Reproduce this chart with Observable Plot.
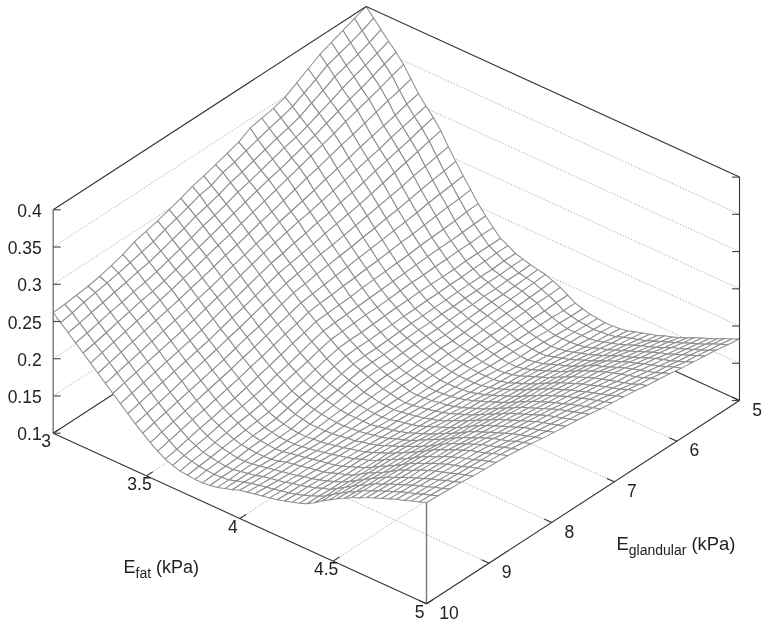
<!DOCTYPE html>
<html>
<head>
<meta charset="utf-8">
<script src="https://cdn.jsdelivr.net/npm/d3@7"></script>
<script src="https://cdn.jsdelivr.net/npm/@observablehq/plot@0.6"></script>
<style>
html,body{margin:0;padding:0;background:#fff;}
svg{display:block;filter:blur(0.35px);}
</style>
</head>
<body>
<div id="chart"></div>
<script>
// Axis ticks
const efatTicks = [3, 3.5, 4, 4.5, 5];
const eglandularTicks = [5, 6, 7, 8, 9, 10];
const zTicks = [0.1, 0.15, 0.2, 0.25, 0.3, 0.35, 0.4];
const zLabels = ["0.1", "0.15", "0.2", "0.25", "0.3", "0.35", "0.4"];
const efatTitle = "Efat (kPa)";
const eglandularTitle = "Eglandular (kPa)";

// Height of the surface (in thousandths). One array per Eglandular grid line, 51 values along Efat 3 to 5.
const eg00 = [400,389,378,367,357,345,330,315,303,292,279,262,247,232,218,204,192,181,171,166,160,157,154,152,150,146,142,136,130,127,124,123,122,122,123,125,128,131,134,137,141,144,148,152,157,161,165,169,174,178,183];
const eg01 = [394,382,371,361,351,340,325,311,299,288,275,259,244,230,216,203,191,181,171,166,160,157,153,151,149,145,141,136,130,127,125,124,123,124,125,127,131,134,137,140,144,148,152,156,160,164,168,172,177,181,185];
const eg02 = [388,376,365,355,345,334,321,306,295,283,271,256,242,228,215,201,190,180,171,165,159,156,153,150,148,144,141,135,131,128,125,125,125,125,127,130,133,136,140,144,148,151,155,159,164,167,171,175,179,183,188];
const eg03 = [382,371,360,350,339,329,316,302,291,279,267,253,239,226,213,200,189,180,171,165,159,156,152,149,147,143,140,135,131,128,126,126,126,127,129,132,136,139,143,147,151,155,159,163,167,170,174,178,182,186,190];
const eg04 = [376,366,355,344,334,324,311,298,286,275,263,249,236,223,211,199,189,179,170,164,159,155,152,149,146,143,139,135,131,129,127,126,127,129,132,135,138,142,146,150,155,158,162,166,170,174,177,180,184,188,192];
const eg05 = [367,357,347,337,328,319,306,294,282,271,259,246,233,221,209,198,188,179,170,164,159,155,151,148,145,142,138,135,131,129,128,127,128,131,134,137,141,145,149,153,158,162,166,170,173,177,180,183,187,191,194];
const eg06 = [358,349,340,331,322,313,302,289,278,266,255,243,231,219,208,196,187,178,170,163,158,154,151,147,144,141,138,134,132,130,128,128,130,132,136,140,143,147,152,157,162,165,169,173,177,180,183,186,189,193,197];
const eg07 = [349,341,332,324,316,308,297,285,274,262,251,240,228,217,206,195,186,178,170,163,158,154,150,146,143,140,137,134,132,130,129,129,131,134,138,142,146,150,155,160,165,169,173,177,180,183,186,189,192,196,199];
const eg08 = [344,336,327,319,311,303,292,281,270,259,248,237,226,215,204,194,185,177,169,162,157,153,149,145,142,139,137,134,132,131,130,131,133,136,140,144,148,152,157,162,167,171,175,179,182,185,188,191,194,198,201];
const eg09 = [341,332,323,315,306,298,288,276,266,255,245,234,223,213,203,193,184,176,169,162,157,153,149,145,142,139,136,134,133,132,132,132,134,137,141,145,149,154,159,164,169,173,177,181,184,188,191,194,197,201,204];
const eg10 = [338,327,318,310,301,293,283,272,262,252,242,231,221,211,201,192,183,175,168,161,156,152,148,144,141,138,136,134,133,133,133,134,136,139,143,147,151,156,161,166,171,175,179,183,186,190,193,196,199,203,206];
const eg11 = [329,322,313,305,297,288,278,268,259,248,238,229,219,209,200,190,182,175,167,161,155,151,147,143,140,138,135,133,133,133,134,135,138,141,145,149,153,157,162,167,172,177,181,185,189,192,196,199,202,205,208];
const eg12 = [324,317,308,300,292,283,273,264,255,245,235,226,217,207,198,189,181,174,166,160,154,150,146,142,139,137,135,133,133,134,135,137,140,143,147,151,155,159,164,169,174,179,183,187,191,194,198,201,204,207,210];
const eg13 = [319,313,304,296,287,278,269,259,251,241,232,223,214,205,197,188,180,173,166,160,154,150,146,142,139,137,134,133,134,135,137,138,141,144,148,152,156,161,166,171,176,181,185,189,193,197,201,204,207,210,213];
const eg14 = [314,306,298,290,282,273,264,255,247,238,229,220,212,203,195,187,179,172,165,159,153,149,145,141,138,136,134,133,134,136,138,140,143,146,150,154,158,163,168,173,178,183,187,191,195,199,203,206,209,212,215];
const eg15 = [310,303,293,285,277,268,259,250,242,233,224,215,207,198,190,182,175,168,161,155,150,146,143,139,137,135,134,134,135,137,139,141,144,147,151,156,160,165,170,175,180,185,189,193,197,201,205,208,211,214,217];
const eg16 = [304,297,289,281,272,264,255,246,237,228,219,211,202,194,186,178,170,163,157,151,146,143,140,137,136,135,134,134,135,138,140,142,145,149,153,157,161,166,171,177,182,187,191,195,199,203,207,210,213,216,219];
const eg17 = [299,292,283,275,267,259,250,241,232,223,214,206,197,189,181,173,165,159,152,147,143,140,137,135,134,134,134,134,136,138,140,143,146,150,154,158,163,168,173,178,184,189,193,197,201,205,209,212,215,218,221];
const eg18 = [294,287,278,270,262,254,245,236,228,219,210,201,193,184,176,168,161,155,148,144,140,137,135,134,133,133,134,135,137,139,141,144,148,151,155,160,165,170,175,180,186,191,195,200,204,208,211,214,218,221,224];
const eg19 = [290,281,273,265,257,250,241,232,223,214,205,197,188,180,172,164,156,150,144,140,136,134,132,132,132,133,134,136,137,140,142,145,149,153,157,162,166,171,176,182,188,193,197,202,206,210,213,216,220,223,226];
const eg20 = [286,277,268,260,252,245,236,227,218,209,200,192,183,175,167,159,152,146,140,136,133,131,130,130,131,132,134,136,138,141,143,146,150,154,158,163,168,173,178,184,190,195,199,204,208,212,215,218,222,225,228];
const eg21 = [279,273,265,256,248,241,232,223,214,205,196,188,179,171,163,155,149,143,138,134,132,130,130,130,131,133,135,137,139,142,144,147,151,154,158,164,169,174,179,185,191,196,200,205,209,213,216,219,223,226,229];
const eg22 = [274,269,261,253,245,237,228,219,210,201,192,184,175,167,159,152,146,141,136,133,131,130,129,130,132,134,136,138,140,142,144,147,151,155,159,164,170,175,180,186,192,197,201,206,210,214,217,220,224,227,230];
const eg23 = [270,266,258,249,241,233,224,215,206,197,188,180,171,163,155,148,143,138,134,131,130,129,129,130,132,135,137,139,141,143,145,148,152,155,159,165,171,176,181,187,193,198,202,207,211,215,218,221,225,228,231];
const eg24 = [267,263,254,246,237,229,220,211,202,193,184,175,167,159,152,145,139,135,132,130,128,128,129,131,133,135,137,139,141,144,146,149,152,156,160,165,171,177,183,188,194,198,203,207,211,215,219,222,226,229,233];
const eg25 = [265,260,251,242,233,225,216,207,198,189,180,171,163,155,148,141,136,132,130,128,127,127,129,131,133,136,138,140,142,145,147,150,153,157,160,166,172,178,184,189,195,199,204,208,212,216,220,223,227,230,234];
const eg26 = [263,256,247,238,229,221,212,203,194,185,176,167,159,151,144,137,133,130,128,127,126,127,128,131,134,137,139,141,143,145,147,150,153,157,161,166,173,179,185,190,196,200,205,209,213,217,221,224,228,231,235];
const eg27 = [262,253,244,235,226,217,208,199,190,181,172,163,155,147,140,134,130,127,126,125,125,126,128,131,134,138,140,142,144,146,148,151,154,157,161,167,174,180,186,191,197,201,206,210,214,218,222,225,229,232,236];
const surfaceRows = [eg00,eg01,eg02,eg03,eg04,eg05,eg06,eg07,eg08,eg09,eg10,eg11,eg12,eg13,eg14,eg15,eg16,eg17,eg18,eg19,eg20,eg21,eg22,eg23,eg24,eg25,eg26,eg27];

// Fixed oblique view of the box: Efat 3..5, Eglandular 5..10, height 0.1..0.4
const W = 766, H = 626;
const back = [365.7, 229.4], efatStep = [373.3, 170.6], egStep = [-313, 203.3], zPx = 744.7;
const project = (efat, eg, z) => {
  const u = (efat - 3) / 2, v = (eg - 5) / 5;
  return [back[0] + u * efatStep[0] + v * egStep[0],
          back[1] + u * efatStep[1] + v * egStep[1] - (z - 0.1) * zPx];
};
const nEf = surfaceRows[0].length, nEg = surfaceRows.length;
const efAt = i => 3 + 2 * i / (nEf - 1);
const egAt = j => 5 + 5 * j / (nEg - 1);
const zAt = (i, j) => surfaceRows[j][i] / 1000;

// Mesh cells, back to front, so that nearer cells hide what lies behind them
const cells = [];
for (let j = 0; j < nEg - 1; j++) {
  for (let i = 0; i < nEf - 1; i++) {
    for (const [a, b] of [[i, j], [i + 1, j], [i + 1, j + 1], [i, j + 1]]) {
      const p = project(efAt(a), egAt(b), zAt(a, b));
      cells.push({id: j * nEf + i, x: p[0], y: p[1]});
    }
  }
}

const seg = (a, b) => ({x1: a[0], y1: a[1], x2: b[0], y2: b[1]});
const zMin = 0.1, zMax = 0.4;

const gridLines = [
  ...efatTicks.slice(1, -1).map(e => seg(project(e, 10, zMin), project(e, 5, zMin))),
  ...eglandularTicks.slice(1, -1).map(g => seg(project(5, g, zMin), project(3, g, zMin))),
  ...zTicks.slice(1, -1).flatMap(z => [seg(project(3, 10, z), project(3, 5, z)), seg(project(3, 5, z), project(5, 5, z))])
];
const hiddenBase = [seg(project(3, 10, zMin), project(3, 5, zMin)), seg(project(3, 5, zMin), project(5, 5, zMin))];
const darkEdges = [
  seg(project(3, 10, zMin), project(5, 10, zMin)),
  seg(project(5, 10, zMin), project(5, 5, zMin)),
  seg(project(3, 10, zMax), project(3, 5, zMax)),
  seg(project(3, 5, zMax), project(5, 5, zMax)),
  seg(project(5, 5, zMin), project(5, 5, zMax)),
  ...efatTicks.map(e => seg(project(e, 10, zMin), project(e, 9.9, zMin))),
  ...eglandularTicks.map(g => seg(project(5, g, zMin), project(4.96, g, zMin)))
];
const grayEdges = [
  seg(project(3, 10, zMin), project(3, 10, zMax)),
  seg(project(5, 10, zMin), project(5, 10, zAt(nEf - 1, nEg - 1)))
];
const tickLen = 7.5;
const zTickSegs = zTicks.flatMap(z => {
  const l = project(3, 10, z), r = project(5, 5, z);
  return [seg(l, [l[0] + tickLen, l[1]]), seg(r, [r[0] - tickLen, r[1]])];
});

const linkOpts = {x1: "x1", y1: "y1", x2: "x2", y2: "y2"};
const font = "'Liberation Sans', Arial, Helvetica, sans-serif";

const chart = Plot.plot({
  width: W, height: H, margin: 0,
  style: {background: "#fff", fontFamily: font, overflow: "visible"},
  x: {domain: [0, W], range: [0, W], axis: null},
  y: {domain: [0, H], range: [0, H], axis: null},
  marks: [
    Plot.link(hiddenBase, {...linkOpts, stroke: "#333", strokeWidth: 1.1}),
    Plot.link(gridLines, {...linkOpts, stroke: "#a8a8a8", strokeWidth: 1, strokeDasharray: "1.2,1.8"}),
    Plot.line(cells, {x: "x", y: "y", z: "id", curve: "linear-closed", fill: "#fff", stroke: "#8f8f8f", strokeWidth: 1.05, strokeLinejoin: "round"}),
    Plot.link(grayEdges, {...linkOpts, stroke: "#777", strokeWidth: 1.4}),
    Plot.link(darkEdges, {...linkOpts, stroke: "#333", strokeWidth: 1.1}),
    Plot.link(zTickSegs, {...linkOpts, stroke: "#444", strokeWidth: 1.1}),
    Plot.text(zTicks, {
      x: z => project(3, 10, z)[0], y: z => project(3, 10, z)[1], text: (z, i) => zLabels[i],
      dx: -11.5, dy: 1.5, textAnchor: "end", fontSize: 17.5, fill: "#222"
    }),
    Plot.text(efatTicks, {
      x: e => project(e, 10, zMin)[0], y: e => project(e, 10, zMin)[1], text: e => String(e),
      dx: -7, dy: 8.5, textAnchor: "middle", fontSize: 17.5, fill: "#222"
    }),
    Plot.text(eglandularTicks, {
      x: g => project(5, g, zMin)[0], y: g => project(5, g, zMin)[1], text: g => String(g),
      dx: 12.7, dy: 9.7, textAnchor: "start", fontSize: 17.5, fill: "#222"
    }),
    Plot.text([efatTitle], {x: () => 123, y: () => 567, text: d => d, textAnchor: "start", fontSize: 18, fill: "#222"}),
    Plot.text([eglandularTitle], {x: () => 616, y: () => 544, text: d => d, textAnchor: "start", fontSize: 18.4, fill: "#222"})
  ]
});

// Set the part after the leading E of each axis title as a subscript
d3.select(chart).selectAll("text").each(function () {
  const t = this.textContent;
  const m = /^E(\w+)( \(kPa\))$/.exec(t);
  if (!m) return;
  const s = d3.select(this);
  s.text("");
  s.append("tspan").text("E");
  s.append("tspan").attr("dy", 4.5).attr("font-size", 14).text(m[1]);
  s.append("tspan").attr("dy", -4.5).text(m[2]);
});

document.getElementById("chart").append(chart);
</script>
</body>
</html>
